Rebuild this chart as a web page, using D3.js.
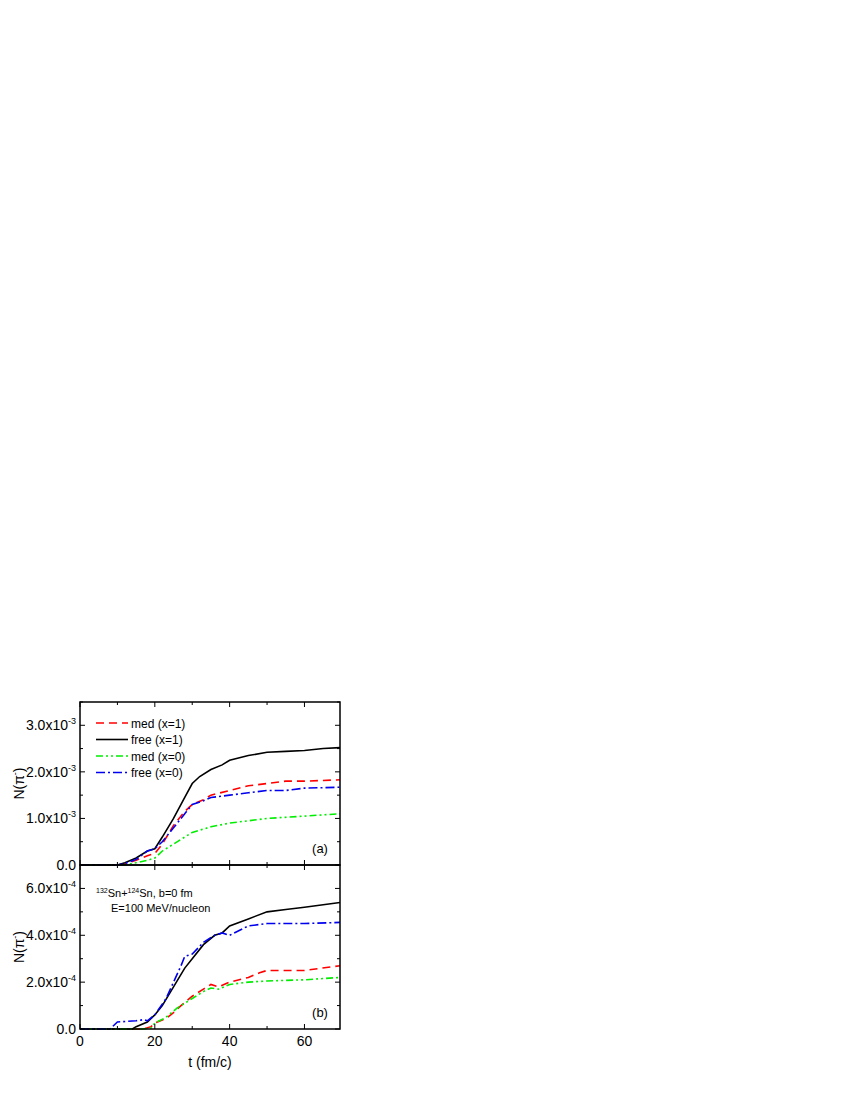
<!DOCTYPE html><html><head><script src="https://cdn.jsdelivr.net/npm/d3@7"></script>
<style>body{margin:0;background:#fff}text{font-family:"Liberation Sans",Arial,sans-serif}</style></head><body>
<svg id="c" width="850" height="1100"></svg>
<script>
const seriesNames=["med (x=1)","free (x=1)","med (x=0)","free (x=0)"];
const colors=["#ff0000","#000000","#00ee00","#0000ee"];
const dashes=["8,5","none","7,3,2,3,2,3","9,3,2,3"];
const xTicks=[0,20,40,60];
const aTicks=[0,1,2,3], bTicks=[0,2,4,6];
const aMedX1=[[0,0],[10,0],[12,0.02],[15,0.1],[18,0.2],[20,0.25],[22,0.45],[25,0.85],[28,1.15],[30,1.3],[33,1.4],[35,1.5],[40,1.6],[45,1.7],[50,1.75],[55,1.8],[60,1.8],[69.5,1.83]];
const aFreeX1=[[0,0],[10,0],[12,0.05],[15,0.15],[18,0.3],[20,0.35],[22,0.6],[25,1.0],[28,1.45],[30,1.75],[32,1.9],[35,2.05],[38,2.15],[40,2.25],[45,2.35],[50,2.42],[55,2.44],[60,2.46],[65,2.5],[69.5,2.52]];
const aMedX0=[[0,0],[12,0],[15,0.05],[18,0.1],[20,0.15],[22,0.3],[25,0.45],[28,0.6],[30,0.7],[35,0.82],[40,0.9],[45,0.95],[50,1.0],[60,1.05],[69.5,1.1]];
const aFreeX0=[[0,0],[10,0],[12,0.03],[15,0.12],[18,0.3],[20,0.35],[22,0.5],[25,0.8],[28,1.1],[30,1.3],[33,1.38],[35,1.45],[40,1.5],[45,1.55],[50,1.6],[55,1.6],[60,1.65],[69.5,1.67]];
const bMedX1=[[0,0],[17,0],[19,0.1],[20,0.25],[23,0.45],[25,0.7],[27,1.0],[30,1.4],[33,1.7],[35,1.9],[37,1.8],[40,2.0],[45,2.2],[48,2.4],[50,2.5],[60,2.5],[69.5,2.7]];
const bFreeX1=[[0,0],[14,0],[15,0.1],[18,0.3],[20,0.6],[22,1.0],[25,1.8],[28,2.6],[30,3.0],[33,3.6],[36,4.0],[38,4.1],[40,4.4],[45,4.7],[50,5.0],[55,5.1],[60,5.2],[65,5.3],[69.5,5.4]];
const bMedX0=[[0,0],[17,0],[19,0.05],[20,0.25],[23,0.5],[26,0.9],[27,1.0],[30,1.3],[33,1.6],[35,1.75],[37,1.7],[40,1.9],[45,2.0],[50,2.05],[60,2.1],[69.5,2.2]];
const bFreeX0=[[0,0],[8,0],[10,0.3],[15,0.35],[17,0.4],[18,0.35],[20,0.6],[23,1.3],[25,2.0],[27,2.7],[28,3.1],[30,3.2],[33,3.7],[36,4.0],[38,4.1],[40,4.0],[45,4.4],[50,4.5],[60,4.5],[69.5,4.55]];
const svg=d3.select("#c");
const L=80,R=340;
const x=d3.scaleLinear().domain([0,69.5]).range([L,R]);
function panel(top,bot,ymax,ticks,exp,data,tag,showX){
  const y=d3.scaleLinear().domain([0,ymax]).range([bot,top]);
  const g=svg.append("g");
  const line=d3.line().x(d=>x(d[0])).y(d=>y(d[1]));
  data.forEach((s,i)=>g.append("path").attr("d",line(s)).attr("fill","none").attr("stroke",colors[i]).attr("stroke-width",1.6).attr("stroke-dasharray",dashes[i]));
  g.append("rect").attr("x",L).attr("y",top).attr("width",R-L).attr("height",bot-top).attr("fill","none").attr("stroke","#000").attr("stroke-width",1.5);
  d3.range(0,70,10).forEach(v=>{const l=v%20==0?5:3;
    g.append("line").attr("x1",x(v)).attr("x2",x(v)).attr("y1",bot).attr("y2",bot-l).attr("stroke","#000");
    g.append("line").attr("x1",x(v)).attr("x2",x(v)).attr("y1",top).attr("y2",top+l).attr("stroke","#000");});
  d3.range(0,ymax+0.01,ticks[1]/2).forEach((v,k)=>{const l=k%2==0?5:3;
    g.append("line").attr("x1",L).attr("x2",L+l).attr("y1",y(v)).attr("y2",y(v)).attr("stroke","#000");
    g.append("line").attr("x1",R).attr("x2",R-l).attr("y1",y(v)).attr("y2",y(v)).attr("stroke","#000");});
  ticks.forEach(v=>{const t=g.append("text").attr("x",L-4).attr("y",y(v)+5).attr("text-anchor","end").attr("font-size",14);
    if(v==0) t.text("0.0"); else {t.append("tspan").text(v.toFixed(1)+"x10");t.append("tspan").attr("dy",-6).attr("font-size",9).text(exp);}});
  g.append("text").attr("x",R-20).attr("y",bot-12).attr("text-anchor","middle").attr("font-size",13).text(tag);
  const t=g.append("text").attr("transform",`translate(24,${(top+bot)/2}) rotate(-90)`).attr("text-anchor","middle").attr("font-size",14);
  t.append("tspan").text("N(π");t.append("tspan").attr("dy",-6).attr("font-size",9).text("-");t.append("tspan").attr("dy",6).text(")");
  if(showX) xTicks.forEach(v=>g.append("text").attr("x",x(v)).attr("y",bot+17).attr("text-anchor","middle").attr("font-size",14).text(v));
  return g;
}
panel(702,865,3.5,aTicks,"-3",[aMedX1,aFreeX1,aMedX0,aFreeX0],"(a)",false);
const gb=panel(865,1029,7,bTicks,"-4",[bMedX1,bFreeX1,bMedX0,bFreeX0],"(b)",true);
seriesNames.forEach((n,i)=>{const yy=723+i*16.5;
  svg.append("line").attr("x1",96).attr("x2",128).attr("y1",yy).attr("y2",yy).attr("stroke",colors[i]).attr("stroke-width",1.6).attr("stroke-dasharray",dashes[i]);
  svg.append("text").attr("x",131).attr("y",yy+4.5).attr("font-size",12).text(n);});
const an=svg.append("text").attr("x",96).attr("y",897).attr("font-size",11);
an.append("tspan").attr("font-size",7).attr("dy",-4).text("132");an.append("tspan").attr("dy",4).text("Sn+");
an.append("tspan").attr("font-size",7).attr("dy",-4).text("124");an.append("tspan").attr("dy",4).text("Sn, b=0 fm");
svg.append("text").attr("x",111).attr("y",912).attr("font-size",11).text("E=100 MeV/nucleon");
svg.append("text").attr("x",210).attr("y",1067).attr("text-anchor","middle").attr("font-size",14).text("t (fm/c)");
</script></body></html>
